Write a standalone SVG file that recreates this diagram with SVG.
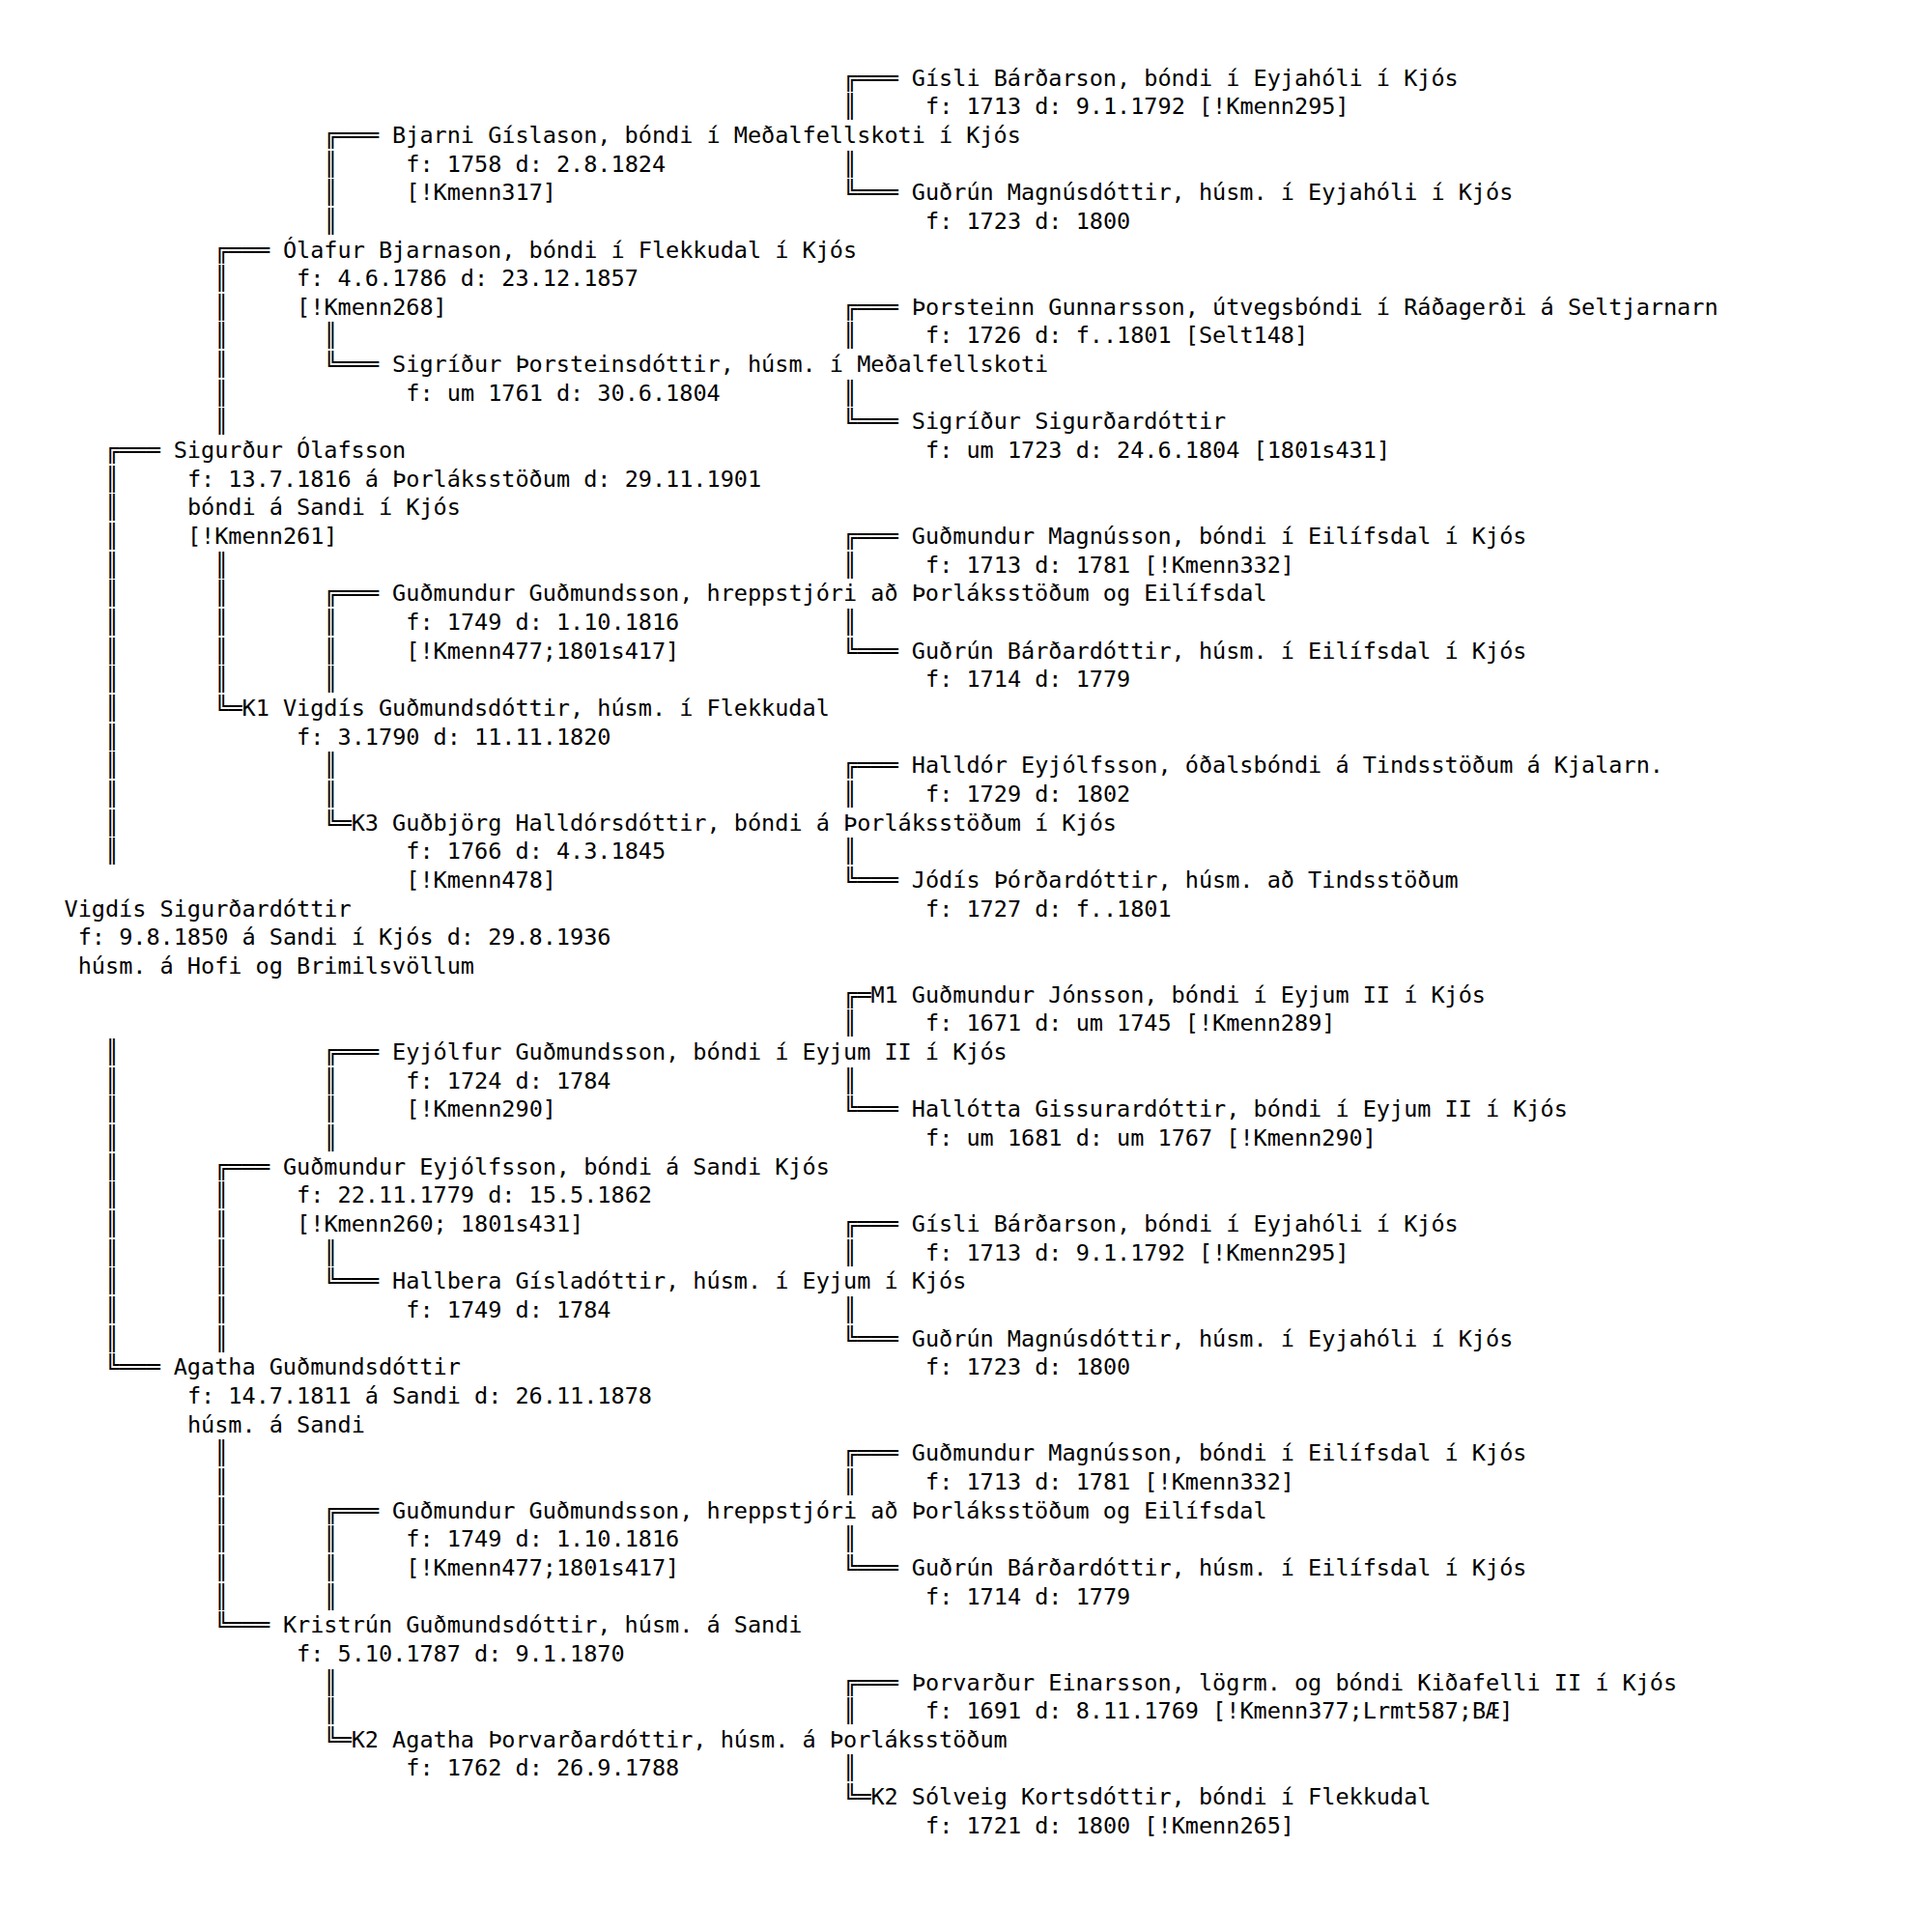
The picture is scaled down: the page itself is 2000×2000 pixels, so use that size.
<svg xmlns="http://www.w3.org/2000/svg" width="2000" height="2000" viewBox="0 0 2000 2000">
<style>
text{font-family:"DejaVu Sans Mono","Liberation Mono",monospace;font-size:23.5px;fill:#000}
</style>
<rect width="2000" height="2000" fill="#fff"/>
<g transform="translate(1.5,-5)">
<g id="connectors">
<text x="871.6" y="93.5">╔═══</text>
<text x="333.9" y="152.8">╔═══</text>
<text x="871.6" y="212.1">╚═══</text>
<text x="220.7" y="271.5">╔═══</text>
<text x="871.6" y="330.8">╔═══</text>
<text x="333.9" y="390.1">╚═══</text>
<text x="871.6" y="449.4">╚═══</text>
<text x="107.5" y="479.1">╔═══</text>
<text x="871.6" y="568.1">╔═══</text>
<text x="333.9" y="627.4">╔═══</text>
<text x="871.6" y="686.7">╚═══</text>
<text x="220.7" y="746.0">╚═K1</text>
<text x="871.6" y="805.3">╔═══</text>
<text x="333.9" y="864.7">╚═K3</text>
<text x="871.6" y="924.0">╚═══</text>
<text x="871.6" y="1042.6">╔═M1</text>
<text x="333.9" y="1101.9">╔═══</text>
<text x="871.6" y="1161.3">╚═══</text>
<text x="220.7" y="1220.6">╔═══</text>
<text x="871.6" y="1279.9">╔═══</text>
<text x="333.9" y="1339.2">╚═══</text>
<text x="871.6" y="1398.5">╚═══</text>
<text x="107.5" y="1428.2">╚═══</text>
<text x="871.6" y="1517.2">╔═══</text>
<text x="333.9" y="1576.5">╔═══</text>
<text x="871.6" y="1635.8">╚═══</text>
<text x="220.7" y="1695.1">╚═══</text>
<text x="871.6" y="1754.5">╔═══</text>
<text x="333.9" y="1813.8">╚═K2</text>
<text x="871.6" y="1873.1">╚═K2</text>
<text x="107.5" y="508.7">║<tspan x="107.5" dy="29.66">║</tspan><tspan x="107.5" dy="29.66">║</tspan><tspan x="107.5" dy="29.66">║</tspan><tspan x="107.5" dy="29.66">║</tspan><tspan x="107.5" dy="29.66">║</tspan><tspan x="107.5" dy="29.66">║</tspan><tspan x="107.5" dy="29.66">║</tspan><tspan x="107.5" dy="29.66">║</tspan><tspan x="107.5" dy="29.66">║</tspan><tspan x="107.5" dy="29.66">║</tspan><tspan x="107.5" dy="29.66">║</tspan><tspan x="107.5" dy="29.66">║</tspan><tspan x="107.5" dy="29.66">║</tspan></text>
<text x="107.5" y="1101.9">║<tspan x="107.5" dy="29.66">║</tspan><tspan x="107.5" dy="29.66">║</tspan><tspan x="107.5" dy="29.66">║</tspan><tspan x="107.5" dy="29.66">║</tspan><tspan x="107.5" dy="29.66">║</tspan><tspan x="107.5" dy="29.66">║</tspan><tspan x="107.5" dy="29.66">║</tspan><tspan x="107.5" dy="29.66">║</tspan><tspan x="107.5" dy="29.66">║</tspan><tspan x="107.5" dy="29.66">║</tspan></text>
<text x="220.7" y="301.1">║<tspan x="220.7" dy="29.66">║</tspan><tspan x="220.7" dy="29.66">║</tspan><tspan x="220.7" dy="29.66">║</tspan><tspan x="220.7" dy="29.66">║</tspan><tspan x="220.7" dy="29.66">║</tspan></text>
<text x="220.7" y="597.7">║<tspan x="220.7" dy="29.66">║</tspan><tspan x="220.7" dy="29.66">║</tspan><tspan x="220.7" dy="29.66">║</tspan><tspan x="220.7" dy="29.66">║</tspan></text>
<text x="220.7" y="1250.2">║<tspan x="220.7" dy="29.66">║</tspan><tspan x="220.7" dy="29.66">║</tspan><tspan x="220.7" dy="29.66">║</tspan><tspan x="220.7" dy="29.66">║</tspan><tspan x="220.7" dy="29.66">║</tspan></text>
<text x="220.7" y="1517.2">║<tspan x="220.7" dy="29.66">║</tspan><tspan x="220.7" dy="29.66">║</tspan><tspan x="220.7" dy="29.66">║</tspan><tspan x="220.7" dy="29.66">║</tspan><tspan x="220.7" dy="29.66">║</tspan></text>
<text x="333.9" y="182.5">║<tspan x="333.9" dy="29.66">║</tspan><tspan x="333.9" dy="29.66">║</tspan></text>
<text x="333.9" y="360.4">║</text>
<text x="333.9" y="657.0">║<tspan x="333.9" dy="29.66">║</tspan><tspan x="333.9" dy="29.66">║</tspan></text>
<text x="333.9" y="805.3">║<tspan x="333.9" dy="29.66">║</tspan></text>
<text x="333.9" y="1131.6">║<tspan x="333.9" dy="29.66">║</tspan><tspan x="333.9" dy="29.66">║</tspan></text>
<text x="333.9" y="1309.6">║</text>
<text x="333.9" y="1606.2">║<tspan x="333.9" dy="29.66">║</tspan><tspan x="333.9" dy="29.66">║</tspan></text>
<text x="333.9" y="1754.5">║<tspan x="333.9" dy="29.66">║</tspan></text>
<text x="871.6" y="123.2">║</text>
<text x="871.6" y="182.5">║</text>
<text x="871.6" y="360.4">║</text>
<text x="871.6" y="419.8">║</text>
<text x="871.6" y="597.7">║</text>
<text x="871.6" y="657.0">║</text>
<text x="871.6" y="835.0">║</text>
<text x="871.6" y="894.3">║</text>
<text x="871.6" y="1072.3">║</text>
<text x="871.6" y="1131.6">║</text>
<text x="871.6" y="1309.6">║</text>
<text x="871.6" y="1368.9">║</text>
<text x="871.6" y="1546.8">║</text>
<text x="871.6" y="1606.2">║</text>
<text x="871.6" y="1784.1">║</text>
<text x="871.6" y="1843.4">║</text>
</g>
<g id="n01"><text x="942.3" y="93.5">Gísli Bárðarson, bóndi í Eyjahóli í Kjós</text><text x="956.5" y="123.2">f: 1713 d: 9.1.1792 [!Kmenn295]</text></g>
<g id="n02"><text x="404.6" y="152.8">Bjarni Gíslason, bóndi í Meðalfellskoti í Kjós</text><text x="418.8" y="182.5">f: 1758 d: 2.8.1824</text><text x="418.8" y="212.1">[!Kmenn317]</text></g>
<g id="n03"><text x="942.3" y="212.1">Guðrún Magnúsdóttir, húsm. í Eyjahóli í Kjós</text><text x="956.5" y="241.8">f: 1723 d: 1800</text></g>
<g id="n04"><text x="291.4" y="271.5">Ólafur Bjarnason, bóndi í Flekkudal í Kjós</text><text x="305.6" y="301.1">f: 4.6.1786 d: 23.12.1857</text><text x="305.6" y="330.8">[!Kmenn268]</text></g>
<g id="n05"><text x="942.3" y="330.8">Þorsteinn Gunnarsson, útvegsbóndi í Ráðagerði á Seltjarnarn</text><text x="956.5" y="360.4">f: 1726 d: f..1801 [Selt148]</text></g>
<g id="n06"><text x="404.6" y="390.1">Sigríður Þorsteinsdóttir, húsm. í Meðalfellskoti</text><text x="418.8" y="419.8">f: um 1761 d: 30.6.1804</text></g>
<g id="n07"><text x="942.3" y="449.4">Sigríður Sigurðardóttir</text><text x="956.5" y="479.1">f: um 1723 d: 24.6.1804 [1801s431]</text></g>
<g id="n08"><text x="178.2" y="479.1">Sigurður Ólafsson</text><text x="192.4" y="508.7">f: 13.7.1816 á Þorláksstöðum d: 29.11.1901</text><text x="192.4" y="538.4">bóndi á Sandi í Kjós</text><text x="192.4" y="568.1">[!Kmenn261]</text></g>
<g id="n09"><text x="942.3" y="568.1">Guðmundur Magnússon, bóndi í Eilífsdal í Kjós</text><text x="956.5" y="597.7">f: 1713 d: 1781 [!Kmenn332]</text></g>
<g id="n10"><text x="404.6" y="627.4">Guðmundur Guðmundsson, hreppstjóri að Þorláksstöðum og Eilífsdal</text><text x="418.8" y="657.0">f: 1749 d: 1.10.1816</text><text x="418.8" y="686.7">[!Kmenn477;1801s417]</text></g>
<g id="n11"><text x="942.3" y="686.7">Guðrún Bárðardóttir, húsm. í Eilífsdal í Kjós</text><text x="956.5" y="716.4">f: 1714 d: 1779</text></g>
<g id="n12"><text x="291.4" y="746.0">Vigdís Guðmundsdóttir, húsm. í Flekkudal</text><text x="305.6" y="775.7">f: 3.1790 d: 11.11.1820</text></g>
<g id="n13"><text x="942.3" y="805.3">Halldór Eyjólfsson, óðalsbóndi á Tindsstöðum á Kjalarn.</text><text x="956.5" y="835.0">f: 1729 d: 1802</text></g>
<g id="n14"><text x="404.6" y="864.7">Guðbjörg Halldórsdóttir, bóndi á Þorláksstöðum í Kjós</text><text x="418.8" y="894.3">f: 1766 d: 4.3.1845</text><text x="418.8" y="924.0">[!Kmenn478]</text></g>
<g id="n15"><text x="942.3" y="924.0">Jódís Þórðardóttir, húsm. að Tindsstöðum</text><text x="956.5" y="953.6">f: 1727 d: f..1801</text></g>
<g id="n16"><text x="65" y="953.6">Vigdís Sigurðardóttir</text><text x="79.2" y="983.3">f: 9.8.1850 á Sandi í Kjós d: 29.8.1936</text><text x="79.2" y="1013.0">húsm. á Hofi og Brimilsvöllum</text></g>
<g id="n17"><text x="942.3" y="1042.6">Guðmundur Jónsson, bóndi í Eyjum II í Kjós</text><text x="956.5" y="1072.3">f: 1671 d: um 1745 [!Kmenn289]</text></g>
<g id="n18"><text x="404.6" y="1101.9">Eyjólfur Guðmundsson, bóndi í Eyjum II í Kjós</text><text x="418.8" y="1131.6">f: 1724 d: 1784</text><text x="418.8" y="1161.3">[!Kmenn290]</text></g>
<g id="n19"><text x="942.3" y="1161.3">Hallótta Gissurardóttir, bóndi í Eyjum II í Kjós</text><text x="956.5" y="1190.9">f: um 1681 d: um 1767 [!Kmenn290]</text></g>
<g id="n20"><text x="291.4" y="1220.6">Guðmundur Eyjólfsson, bóndi á Sandi Kjós</text><text x="305.6" y="1250.2">f: 22.11.1779 d: 15.5.1862</text><text x="305.6" y="1279.9">[!Kmenn260; 1801s431]</text></g>
<g id="n21"><text x="942.3" y="1279.9">Gísli Bárðarson, bóndi í Eyjahóli í Kjós</text><text x="956.5" y="1309.6">f: 1713 d: 9.1.1792 [!Kmenn295]</text></g>
<g id="n22"><text x="404.6" y="1339.2">Hallbera Gísladóttir, húsm. í Eyjum í Kjós</text><text x="418.8" y="1368.9">f: 1749 d: 1784</text></g>
<g id="n23"><text x="942.3" y="1398.5">Guðrún Magnúsdóttir, húsm. í Eyjahóli í Kjós</text><text x="956.5" y="1428.2">f: 1723 d: 1800</text></g>
<g id="n24"><text x="178.2" y="1428.2">Agatha Guðmundsdóttir</text><text x="192.4" y="1457.9">f: 14.7.1811 á Sandi d: 26.11.1878</text><text x="192.4" y="1487.5">húsm. á Sandi</text></g>
<g id="n25"><text x="942.3" y="1517.2">Guðmundur Magnússon, bóndi í Eilífsdal í Kjós</text><text x="956.5" y="1546.8">f: 1713 d: 1781 [!Kmenn332]</text></g>
<g id="n26"><text x="404.6" y="1576.5">Guðmundur Guðmundsson, hreppstjóri að Þorláksstöðum og Eilífsdal</text><text x="418.8" y="1606.2">f: 1749 d: 1.10.1816</text><text x="418.8" y="1635.8">[!Kmenn477;1801s417]</text></g>
<g id="n27"><text x="942.3" y="1635.8">Guðrún Bárðardóttir, húsm. í Eilífsdal í Kjós</text><text x="956.5" y="1665.5">f: 1714 d: 1779</text></g>
<g id="n28"><text x="291.4" y="1695.1">Kristrún Guðmundsdóttir, húsm. á Sandi</text><text x="305.6" y="1724.8">f: 5.10.1787 d: 9.1.1870</text></g>
<g id="n29"><text x="942.3" y="1754.5">Þorvarður Einarsson, lögrm. og bóndi Kiðafelli II í Kjós</text><text x="956.5" y="1784.1">f: 1691 d: 8.11.1769 [!Kmenn377;Lrmt587;BÆ]</text></g>
<g id="n30"><text x="404.6" y="1813.8">Agatha Þorvarðardóttir, húsm. á Þorláksstöðum</text><text x="418.8" y="1843.4">f: 1762 d: 26.9.1788</text></g>
<g id="n31"><text x="942.3" y="1873.1">Sólveig Kortsdóttir, bóndi í Flekkudal</text><text x="956.5" y="1902.8">f: 1721 d: 1800 [!Kmenn265]</text></g>
</g>
</svg>
